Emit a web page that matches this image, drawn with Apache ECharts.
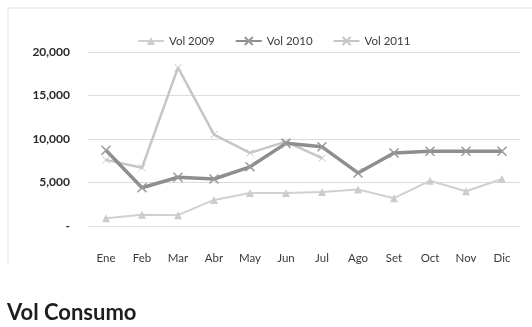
<!DOCTYPE html>
<html>
<head>
<meta charset="utf-8">
<script src="https://cdn.jsdelivr.net/npm/echarts@6/dist/echarts.min.js"></script>
<style>
  html, body { margin: 0; padding: 0; background: #fff; }
  #chart { width: 532px; height: 327px; }
</style>
</head>
<body>
<div id="chart"></div>
<script>
const months = ['Ene', 'Feb', 'Mar', 'Abr', 'May', 'Jun', 'Jul', 'Ago', 'Set', 'Oct', 'Nov', 'Dic'];
const vol2009 = [900, 1300, 1250, 3000, 3800, 3800, 3900, 4200, 3200, 5200, 4000, 5400];
const vol2010 = [8700, 4400, 5600, 5400, 6800, 9500, 9100, 6100, 8400, 8600, 8600, 8600];
const vol2011 = [7600, 6700, 18200, 10500, 8400, 9700, 7800, null, null, null, null, null];
const yTicks = [0, 5000, 10000, 15000, 20000];

const font = 'Lato, "Open Sans", sans-serif';

const chart = echarts.init(document.getElementById('chart'));
chart.setOption({
    animation: false,
    backgroundColor: '#fff',
    title: {
        text: 'Vol Consumo',
        left: 2,
        top: 297,
        textStyle: { fontFamily: font, fontSize: 22, fontWeight: 'bold', color: '#1e1e1e' }
    },
    legend: {
        top: 30,
        left: 132,
        itemGap: 20,
        itemWidth: 26,
        itemHeight: 10,
        textStyle: { fontFamily: font, fontSize: 11.5, color: '#3a3a3a' },
        data: ['Vol 2009', 'Vol 2010', 'Vol 2011']
    },
    grid: { left: 88, right: 12, top: 52, bottom: 101 },
    graphic: [{
        type: 'polyline',
        shape: { points: [[8, 264], [8, 8], [532, 8]] },
        style: { stroke: '#e2e2e2', lineWidth: 1, fill: null }
    }],
    xAxis: {
        type: 'category',
        data: months,
        boundaryGap: true,
        axisLine: { lineStyle: { color: '#e4e4e4' } },
        axisTick: { show: false },
        axisLabel: { fontFamily: font, fontSize: 11.5, color: '#3a3a3a', margin: 26 }
    },
    yAxis: {
        type: 'value',
        min: yTicks[0],
        max: yTicks[yTicks.length - 1],
        interval: 5000,
        axisLine: { show: false },
        axisTick: { show: false },
        splitLine: { lineStyle: { color: '#dcdcdc' } },
        axisLabel: {
            fontFamily: font, fontSize: 12, color: '#2a2a2a', fontWeight: 'bold', margin: 18,
            formatter: v => v === 0 ? '-' : v.toLocaleString('en-US')
        }
    },
    series: [{
        name: 'Vol 2009',
        type: 'line',
        data: vol2009,
        symbol: 'triangle',
        symbolSize: 8,
        lineStyle: { color: '#d0d0d0', width: 2 },
        itemStyle: { color: '#cccccc' }
    }, {
        name: 'Vol 2010',
        type: 'line',
        data: vol2010,
        symbol: 'path://M0,0L10,10M10,0L0,10',
        symbolSize: 9,
        z: 3,
        lineStyle: { color: '#8e8e8e', width: 3.5 },
        itemStyle: { color: '#8e8e8e', borderColor: '#999', borderWidth: 1.5 }
    }, {
        name: 'Vol 2011',
        type: 'line',
        data: vol2011,
        symbol: 'path://M0,0L10,10M10,0L0,10',
        symbolSize: 7,
        z: 2,
        connectNulls: false,
        lineStyle: { color: '#c6c6c6', width: 2.5 },
        itemStyle: { color: '#c6c6c6', borderColor: '#c6c6c6', borderWidth: 1 }
    }]
});
</script>
</body>
</html>
